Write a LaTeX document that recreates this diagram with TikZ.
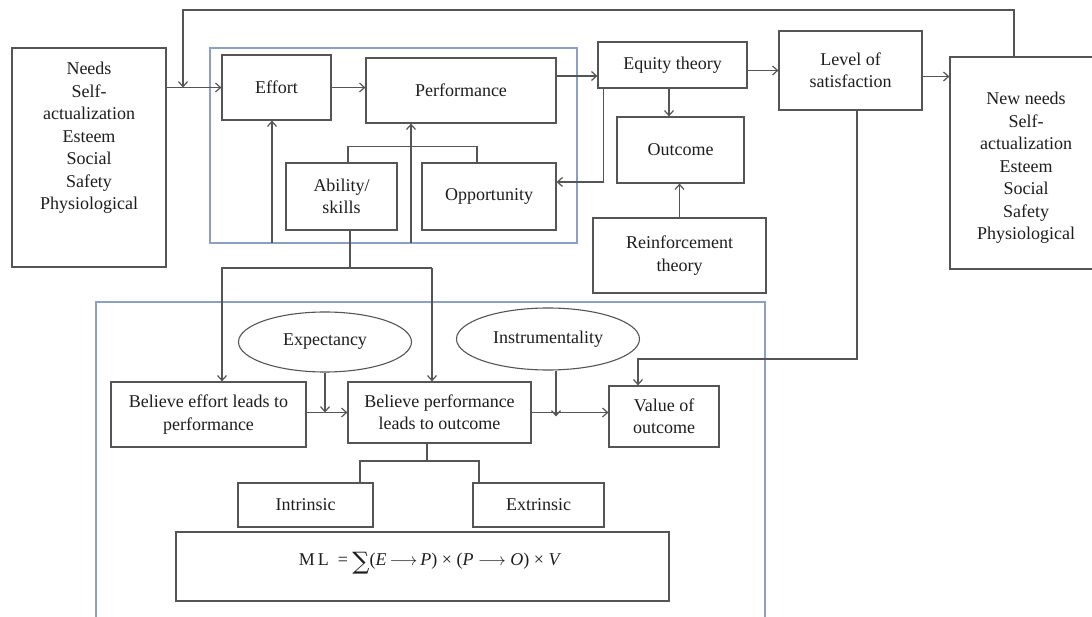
\documentclass[tikz,border=0pt]{standalone}
\usepackage{fontspec}
\setmainfont{Liberation Serif}
\newfontfamily\sumfont{DejaVu Serif}
\usetikzlibrary{arrows.meta,shapes.geometric,calc}
\definecolor{boxline}{RGB}{85,85,85}
\definecolor{bluebox}{RGB}{140,160,195}
\definecolor{ink}{RGB}{30,30,30}
\begin{document}
\begin{tikzpicture}[x=1pt,y=-1pt,
  box/.style={draw=boxline,line width=1.2pt,rectangle,inner sep=0pt,align=center,
    text=ink,font=\fontsize{18}{22.5}\selectfont},
  txt/.style={inner sep=0pt,align=center,text=ink,font=\fontsize{18}{22.5}\selectfont},
  ell/.style={draw=boxline,line width=1.1pt,ellipse,inner sep=0pt,
    text=ink,font=\fontsize{18}{22.5}\selectfont},
  grp/.style={draw=bluebox,line width=1.2pt},
  conn/.style={draw=boxline,line width=1.2pt},
  arr/.style={conn,-{Straight Barb[length=5pt,width=9pt]}}]
\useasboundingbox (0,0) rectangle (1092,617);
\clip (0,0) rectangle (1092,617);
\fill[white] (0,0) rectangle (1092,617);
% group frames
\draw[grp] (210,48) rectangle (577,243);
\draw[grp] (96,302) rectangle (765,630);
\coordinate (g1s) at (400,243);
% boxes
\node[box,minimum width=154pt,minimum height=219pt] (needs) at (89,157.5) {};
\node[txt] (needstxt) at (89,138) {Needs\\Self-\\actualization\\Esteem\\Social\\Safety\\Physiological};
\node[box,minimum width=150pt,minimum height=212pt] (newneeds) at (1025,163) {};
\node[txt] (newneedstxt) at (1026,168) {New needs\\Self-\\actualization\\Esteem\\Social\\Safety\\Physiological};
\node[box,minimum width=109pt,minimum height=65pt] (effort) at (276.5,87.5) {Effort};
\node[box,minimum width=190pt,minimum height=65pt] (perf) at (461,90.5) {Performance};
\node[box,minimum width=111pt,minimum height=67pt] (ability) at (341.5,196.5) {Ability/\\skills};
\node[box,minimum width=134pt,minimum height=67pt] (opp) at (489,196.5) {Opportunity};
\node[box,minimum width=149pt,minimum height=46pt] (eq) at (672.5,65) {Equity theory};
\node[box,minimum width=127pt,minimum height=66pt] (outcome) at (680.5,150) {Outcome};
\node[box,minimum width=173pt,minimum height=75pt] (reinf) at (679.5,255.5) {Reinforcement\\theory};
\node[box,minimum width=143pt,minimum height=79pt] (level) at (850.5,70.5) {Level of\\satisfaction};
\node[box,minimum width=195pt,minimum height=65pt] (be) at (208.5,414.5) {Believe effort leads to\\performance};
\node[box,minimum width=183pt,minimum height=61pt] (bp) at (439.5,412.5) {Believe performance\\leads to outcome};
\node[box,minimum width=110pt,minimum height=61pt] (value) at (664,416.5) {Value of\\outcome};
\node[box,minimum width=135pt,minimum height=44pt] (intr) at (305.5,505) {Intrinsic};
\node[box,minimum width=131pt,minimum height=44pt] (extr) at (538.5,505) {Extrinsic};
\node[box,minimum width=493pt,minimum height=69pt] (formula) at (422.5,566.5) {};
\node[txt] (formulatxt) at (430,563) {M\,L\enspace= \raisebox{-4pt}{\sumfont\fontsize{24}{24}\selectfont ∑}(\textit{E}\,$\longrightarrow$\,\textit{P}) × (\textit{P} $\longrightarrow$ \textit{O}) × \textit{V}};
\node[ell,minimum width=173pt,minimum height=60pt] (exp) at (325,342) {Expectancy};
\node[ell,minimum width=183pt,minimum height=62pt] (ins) at (548,339) {Instrumentality};
% coordinates
\coordinate (fb1) at (1014,10);
\coordinate (fb2) at (183,10);
\coordinate (pa) at (411,243);
\coordinate (hj) at (350,268);
\coordinate (h1) at (222,268);
\coordinate (h2) at (432,268);
\coordinate (v1) at (638,359);
\coordinate (bj) at (427,461);
% connectors
\draw[arr] (needs.east |- effort.west) -- (effort.west);
\draw[arr] (newneeds.north -| fb1) -- (fb1) -- (fb2) -- (fb2 |- effort.west);
\draw[arr] (effort.east) -- (effort.east -| perf.west);
\draw[arr] ([yshift=-11pt]eq.west -| perf.east) -- ([yshift=-11pt]eq.west);
\draw[arr] (eq.east |- level.west) -- (level.west);
\draw[arr] ([yshift=-6pt]level.east) -- ([yshift=-6pt]level.east -| newneeds.west);
\draw[arr] ([xshift=-3.5pt]eq.south) -- ([xshift=-3.5pt]eq.south |- outcome.north);
\draw[arr] ([xshift=6pt]eq.south west) |- ([yshift=14.5pt]opp.east);
\draw[arr] (reinf.north) -- (reinf.north |- outcome.south);
\draw[arr] ([xshift=6.5pt]level.south) |- (v1) -- (v1 |- value.north);
\draw[arr] ([xshift=-4.5pt]effort.south |- g1s) -- ([xshift=-4.5pt]effort.south);
\draw[arr] (pa) -- (pa |- perf.south);
\draw[conn] ([xshift=6.5pt]ability.north) -- ++(0,-16) -| ([xshift=-12pt]opp.north);
\draw[conn] ([xshift=8.5pt]ability.south) -- (hj);
\draw[arr] (h2) -- (h1) -- (h1 |- be.north);
\draw[arr] (h2) -- (h2 |- bp.north);
\draw[arr] (exp.south) -- (exp.south |- bp.west);
\draw[arr] (be.east |- bp.west) -- (bp.west);
\draw[arr] ([xshift=8pt]ins.south) -- ([xshift=8pt]ins.south |- value.west);
\draw[arr] (bp.east) -- (bp.east -| value.west);
\draw[conn] (bj) -- (bj |- bp.south);
\draw[conn] ([xshift=54.5pt]intr.north) |- (bj) -| ([xshift=-59.5pt]extr.north);
\end{tikzpicture}
\end{document}
